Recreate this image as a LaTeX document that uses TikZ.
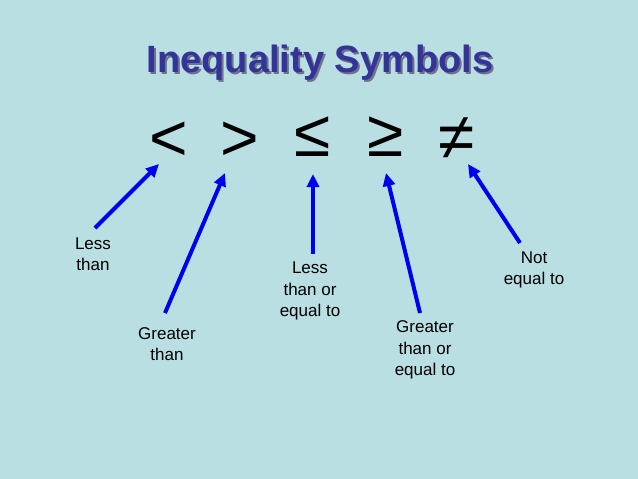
\documentclass[tikz,border=0pt]{standalone}
\usepackage{fontspec}
\setmainfont{Liberation Sans}
\usetikzlibrary{arrows.meta}
\definecolor{bg}{RGB}{186,223,227}
\definecolor{titleblue}{RGB}{51,51,153}
\definecolor{shadowgray}{RGB}{110,115,135}
\definecolor{arrowblue}{RGB}{0,0,240}
\tikzset{
  sym/.style={font=\fontsize{66}{66}\selectfont, inner sep=0pt, text=black},
  lbl/.style={font=\fontsize{17}{21.5}\selectfont, align=center, inner sep=0pt, text=black},
  pointer/.style={draw=arrowblue, line width=4pt, -{Triangle[length=13pt,width=12pt]}},
}
\begin{document}
\begin{tikzpicture}[x=1pt,y=-1pt]
\fill[bg] (0,0) rectangle (638,479);
\useasboundingbox (0,0) rectangle (638,479);
% title
\node[font=\fontsize{38}{38}\selectfont\bfseries, text=shadowgray, inner sep=0pt] at (322,64.5) {Inequality Symbols};
\node[font=\fontsize{38}{38}\selectfont\bfseries, text=titleblue, inner sep=0pt] (title) at (320,62.5) {Inequality Symbols};
% symbols
\node[sym] (lt) at (169,141) {<};
\node[sym] (gt) at (240,141) {>};
\node[sym] (le) at (313,137) {≤};
\node[sym] (ge) at (386,137) {≥};
\node[sym] (ne) at (457,139) {≠};
% labels
\node[lbl] (llt) at (93,254) {Less\\than};
\node[lbl] (lgt) at (167,344) {Greater\\than};
\node[lbl] (lle) at (310,291) {Less\\than or\\equal to};
\node[lbl] (lge) at (425,350) {Greater\\than or\\equal to};
\node[lbl] (lne) at (534,270) {Not\\equal to};
% arrow end points
\coordinate (s1) at (95,228);  \coordinate (e1) at (159,164);
\coordinate (s2) at (165,313); \coordinate (e2) at (225,173);
\coordinate (s3) at (313,254); \coordinate (e3) at (313,174);
\coordinate (s4) at (420,313); \coordinate (e4) at (386,173);
\coordinate (s5) at (520,243); \coordinate (e5) at (468,164);
\draw[pointer] (s1) -- (e1);
\draw[pointer] (s2) -- (e2);
\draw[pointer] (s3) -- (e3);
\draw[pointer] (s4) -- (e4);
\draw[pointer] (s5) -- (e5);
\end{tikzpicture}
\end{document}
